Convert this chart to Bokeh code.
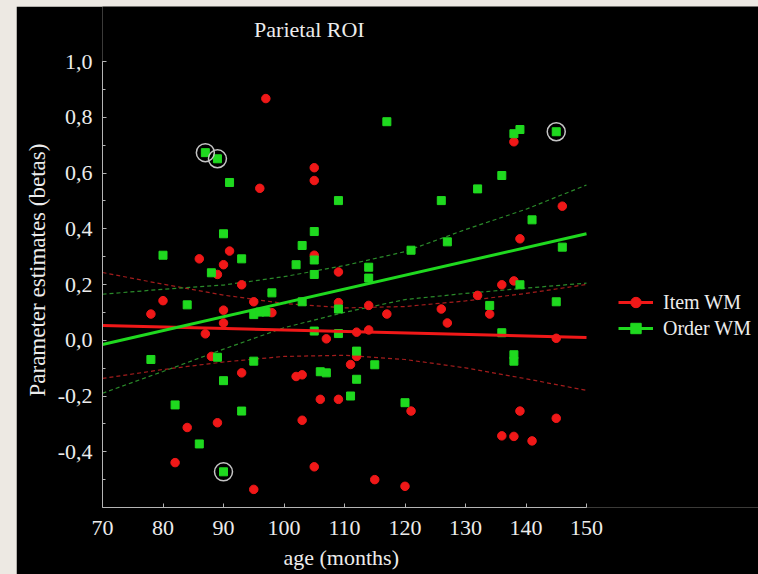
from bokeh.plotting import figure
from bokeh.models import (Range1d, SingleIntervalTicker, CustomJSTickFormatter,
                          Legend, LegendItem, Label, Title)
from bokeh.layouts import column
from bokeh.embed import file_html
from bokeh.resources import INLINE

# ---------------- data ----------------
item_age = [97, 138, 105, 105, 96, 146, 139, 91, 86, 105, 90, 89, 109, 93, 136, 138,
            80, 95, 109, 132, 114, 90, 78, 98, 117, 126, 134, 90, 127, 87, 114, 112,
            107, 145, 88, 112, 111, 93, 102, 103, 106, 109, 121, 139, 145, 103, 89, 84,
            136, 138, 141, 82, 105, 115, 120, 95]
item_beta = [0.867, 0.712, 0.619, 0.573, 0.545, 0.481, 0.364, 0.32, 0.292, 0.305, 0.271,
             0.236, 0.245, 0.199, 0.199, 0.213, 0.142, 0.138, 0.135, 0.161, 0.125, 0.108,
             0.094, 0.099, 0.094, 0.112, 0.094, 0.062, 0.062, 0.023, 0.037, 0.029, 0.005,
             0.007, -0.058, -0.058, -0.087, -0.117, -0.13, -0.124, -0.212, -0.212, -0.254,
             -0.254, -0.28, -0.287, -0.296, -0.313, -0.343, -0.345, -0.361, -0.439, -0.454,
             -0.5, -0.524, -0.535]

order_age = [117, 138, 139, 145, 87, 89, 136, 91, 132, 109, 126, 141, 105, 90, 103, 146,
             127, 121, 80, 93, 105, 102, 88, 105, 114, 114, 139, 98, 84, 103, 134, 145,
             109, 95, 96, 97, 105, 109, 136, 112, 89, 138, 138, 78, 95, 115, 106, 107,
             112, 90, 111, 82, 120, 93, 86, 90]
order_beta = [0.784, 0.741, 0.756, 0.748, 0.673, 0.651, 0.591, 0.566, 0.543, 0.501, 0.501,
              0.432, 0.39, 0.382, 0.34, 0.334, 0.353, 0.323, 0.305, 0.292, 0.288, 0.271,
              0.242, 0.236, 0.262, 0.223, 0.199, 0.17, 0.127, 0.138, 0.125, 0.138, 0.112,
              0.092, 0.101, 0.101, 0.033, 0.024, 0.027, -0.039, -0.061, -0.052, -0.075,
              -0.069, -0.075, -0.088, -0.113, -0.117, -0.14, -0.145, -0.2, -0.232, -0.224,
              -0.254, -0.372, -0.472]

# circled (outlier) points of Order WM
circled_age = [87, 89, 145, 90]
circled_beta = [0.673, 0.651, 0.748, -0.472]

# regression lines
fit_age = [70, 150]
item_fit = [0.053, 0.010]
order_fit = [-0.015, 0.382]

# confidence bands
band_age = [70, 80, 90, 100, 110, 120, 130, 140, 150]
item_upper = [0.243, 0.201, 0.162, 0.132, 0.116, 0.121, 0.141, 0.168, 0.200]
item_lower = [-0.137, -0.105, -0.078, -0.058, -0.054, -0.069, -0.099, -0.138, -0.180]
order_upper = [0.165, 0.183, 0.198, 0.228, 0.268, 0.318, 0.397, 0.470, 0.557]
order_lower = [-0.190, -0.112, -0.032, 0.045, 0.100, 0.146, 0.168, 0.187, 0.205]

# axis extents
x_min, x_max = 70, 150
y_min, y_max = -0.6, 1.0

# ---------------- styles ----------------
RED = "#f01818"
GREEN = "#1fd91f"
RED_DASH = "#a31c1c"
GREEN_DASH = "#2a8a2a"
FONT = "Liberation Serif"
TXT = "#ececec"
AX = "#b4b4b4"

# The frame is widened to the right and upward (same px/unit) so that the
# legend and the title fit in it; the axes themselves are bounded.
FRAME_W, FRAME_H = 656, 501
PX_X = 484 / (x_max - x_min)
PX_Y = 446 / (y_max - y_min)

p = figure(width=742, height=568,
           x_range=Range1d(x_min, x_min + FRAME_W / PX_X),
           y_range=Range1d(y_min, y_min + FRAME_H / PX_Y),
           output_backend="svg", toolbar_location=None,
           min_border_left=86, min_border_right=0,
           min_border_top=0, min_border_bottom=67,
           background_fill_color="black", border_fill_color="black")
p.outline_line_color = None
p.outline_line_alpha = 0
p.margin = (6, 0, 0, 16)
p.grid.visible = False

fmt = CustomJSTickFormatter(code="""
var t = Math.abs(tick) < 1e-9 ? 0 : tick;
return t.toFixed(1).replace('.', ',');
""")

xa = p.xaxis[0]
xa.ticker = SingleIntervalTicker(interval=10, num_minor_ticks=0)
xa.bounds = (x_min, x_max)
ya = p.yaxis[0]
ya.ticker = SingleIntervalTicker(interval=0.2, num_minor_ticks=2)
ya.bounds = (y_min, y_max)
ya.formatter = fmt

for ax in (xa, ya):
    ax.axis_line_color = AX
    ax.axis_line_width = 1
    ax.major_tick_line_color = AX
    ax.minor_tick_line_color = AX
    ax.major_tick_in = 4
    ax.major_tick_out = 0
    ax.minor_tick_in = 3
    ax.minor_tick_out = 0
    ax.major_label_text_font = FONT
    ax.major_label_text_font_size = "22px"
    ax.major_label_text_color = TXT

xa.major_label_standoff = 13
ya.major_label_standoff = 10

# axis titles as side titles, so they centre on the bounded axes
p.add_layout(Title(text="age (months)", align="left", offset=181, standoff=10,
                   text_font=FONT, text_font_size="22px", text_font_style="normal",
                   text_color=TXT), "below")
p.add_layout(Title(text="Parameter estimates (betas)", align="left", offset=111,
                   standoff=10, text_font=FONT, text_font_size="23px",
                   text_font_style="normal", text_color=TXT), "left")

# chart title (drawn above the y-axis top, inside the widened frame)
p.add_layout(Label(x=104.2, y=1.115, text="Parietal ROI",
                   text_align="center", text_baseline="middle",
                   text_font=FONT, text_font_size="22px", text_color=TXT))

# confidence bands
p.line(band_age, item_upper, line_color=RED_DASH, line_width=1.2, line_dash="4 3")
p.line(band_age, item_lower, line_color=RED_DASH, line_width=1.2, line_dash="4 3")
p.line(band_age, order_upper, line_color=GREEN_DASH, line_width=1.2, line_dash="4 3")
p.line(band_age, order_lower, line_color=GREEN_DASH, line_width=1.2, line_dash="4 3")

# points
r_item_pts = p.scatter(item_age, item_beta, marker="circle", size=8.5,
                       fill_color=RED, line_color=RED)
r_order_pts = p.scatter(order_age, order_beta, marker="square", size=8,
                        fill_color=GREEN, line_color=GREEN)
p.scatter(circled_age, circled_beta, marker="circle", size=18,
          fill_color=None, line_color="#c4c4c4", line_width=1.5)

# regression lines
r_item_fit = p.line(fit_age, item_fit, line_color=RED, line_width=3)
r_order_fit = p.line(fit_age, order_fit, line_color=GREEN, line_width=3)

legend = Legend(items=[
    LegendItem(label="Item WM", renderers=[r_item_fit, r_item_pts]),
    LegendItem(label="Order WM", renderers=[r_order_fit, r_order_pts]),
], location=(516, 166), orientation="vertical",
    label_text_font=FONT, label_text_font_size="20px", label_text_color=TXT,
    glyph_width=35, glyph_height=26, label_height=26, spacing=0,
    label_standoff=10, padding=0, margin=0,
    background_fill_alpha=0, border_line_color=None)
p.add_layout(legend, "center")

layout = column(p, styles={"background-color": "#ede9e3"})

open("out.html", "w").write(file_html(layout, INLINE))
